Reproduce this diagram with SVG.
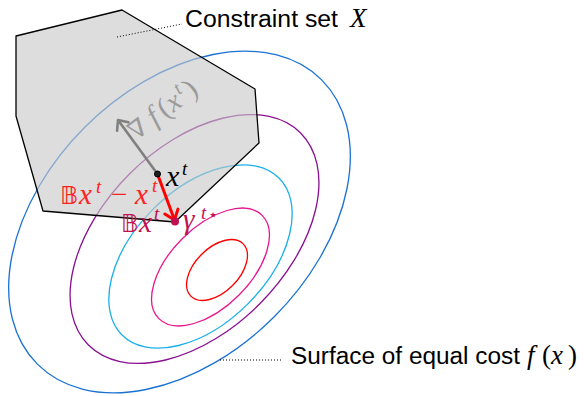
<svg xmlns="http://www.w3.org/2000/svg" width="584" height="396" viewBox="0 0 584 396">
<style>
.lvl{fill:none;stroke-width:1.3}
.sans{font-family:"Liberation Sans","Noto Sans",sans-serif;font-size:23px;fill:#000}
.m{font-family:"Liberation Serif","DejaVu Serif",serif;font-style:italic}
.rm{font-family:"Liberation Serif","DejaVu Serif",serif;font-style:normal}
.bb{font-family:"DejaVu Sans","DejaVu Serif",sans-serif;font-style:normal}
.lead{stroke:#000;stroke-width:1;stroke-dasharray:1 2;fill:none}
</style>
<defs>
<marker id="ahRed" markerUnits="userSpaceOnUse" markerWidth="24" markerHeight="24" viewBox="-12 -12 24 24" refX="0" refY="0" orient="auto">
<path d="M-9,-7 L0,0 L-9,7" fill="none" stroke="#ff0000" stroke-width="3" stroke-linecap="round" stroke-linejoin="round"/>
</marker>
<marker id="ahGray" markerUnits="userSpaceOnUse" markerWidth="24" markerHeight="24" viewBox="-12 -12 24 24" refX="0" refY="0" orient="auto">
<path d="M-8,-7 L0,0 L-8,7" fill="none" stroke="#808080" stroke-width="2.6" stroke-linecap="round" stroke-linejoin="round"/>
</marker>
</defs>
<rect width="584" height="396" fill="#fff"/>
<g id="levels">
<ellipse id="lvl-blue" class="lvl" cx="179.5" cy="222" rx="201" ry="134" transform="rotate(-45 179.5 222)" stroke="#1a72d4"/>
<ellipse id="lvl-purple" class="lvl" cx="194.5" cy="239" rx="150" ry="92" transform="rotate(-45 194.5 239)" stroke="#8a1090"/>
<ellipse id="lvl-cyan" class="lvl" cx="200.5" cy="256.5" rx="111" ry="67" transform="rotate(-45 200.5 256.5)" stroke="#1ab0e8"/>
<ellipse id="lvl-magenta" class="lvl" cx="210.5" cy="267" rx="73" ry="40" transform="rotate(-45 210.5 267)" stroke="#e8168c"/>
<ellipse id="lvl-red" class="lvl" cx="217" cy="270" rx="37" ry="22" transform="rotate(-45 217 270)" stroke="#ff0000"/>
</g>
<g id="constraint-set">
<polygon points="16,36 122,10 255,89 259,143 175,222 43,211 16,116" fill="#c8c8c8" fill-opacity="0.62" stroke="#000" stroke-width="1.3" stroke-linejoin="round"/>
</g>
<g id="connectors">
<line x1="157.5" y1="174" x2="118" y2="120" stroke="#808080" stroke-width="2.6" marker-end="url(#ahGray)"/>
<line x1="157.5" y1="174" x2="174.5" y2="220" stroke="#ff0000" stroke-width="3" marker-end="url(#ahRed)"/>
<polyline class="lead" points="117,37 182,24"/>
<polyline class="lead" points="220,360 282,360"/>
</g>
<g id="xt-point">
<circle cx="157.5" cy="174" r="3" fill="#202020" stroke="#000" stroke-width="1"/>
<text x="166" y="186" class="m" font-size="30" fill="#000">x</text>
<text x="182" y="175" class="m" font-size="19" fill="#000">t</text>
</g>
<g id="proj-point">
<circle cx="175" cy="221.5" r="4" fill="#c01050"/>
<text y="232" font-size="29" fill="#c01050"><tspan x="121" class="bb" font-size="24">𝔹</tspan><tspan x="139" class="m">x</tspan><tspan x="154" y="220" class="m" font-size="19">t</tspan></text>
<text y="229" font-size="29" fill="#c01050"><tspan x="183" class="m">γ</tspan><tspan x="201" y="219" class="m" font-size="19">t</tspan><tspan x="208" y="220" class="bb" font-size="16">⋆</tspan></text>
</g>
<g id="step-label">
<text y="204" font-size="29" fill="#ff2020"><tspan x="60" class="bb" font-size="25">𝔹</tspan><tspan x="79" class="m">x</tspan><tspan x="96" y="193" class="m" font-size="19">t</tspan><tspan x="111" y="204" class="rm">−</tspan><tspan x="135" class="m">x</tspan><tspan x="152" y="192" class="m" font-size="19">t</tspan></text>
</g>
<g id="grad-label">
<text transform="translate(136,141) rotate(-37)" font-size="29" fill="#9a9a9a"><tspan x="0" y="0" class="rm" font-family="DejaVu Serif" font-size="25">∇</tspan><tspan x="24" class="m">f</tspan><tspan x="37" class="rm">(</tspan><tspan x="47" class="m">x</tspan><tspan x="62" y="-11" class="m" font-size="19">t</tspan><tspan x="70" y="0" class="rm">)</tspan></text>
</g>
<g id="label-constraint">
<text x="185" y="27" class="sans" textLength="153" lengthAdjust="spacingAndGlyphs">Constraint set</text>
<text x="350" y="27" class="m" font-size="27">X</text>
</g>
<g id="label-surface">
<text x="291" y="364" class="sans" textLength="229" lengthAdjust="spacingAndGlyphs">Surface of equal cost</text>
<text y="364" font-size="27"><tspan x="527" class="m">f</tspan><tspan x="542" class="rm">(</tspan><tspan x="551" class="m">x</tspan><tspan x="568" class="rm">)</tspan></text>
</g>
</svg>
